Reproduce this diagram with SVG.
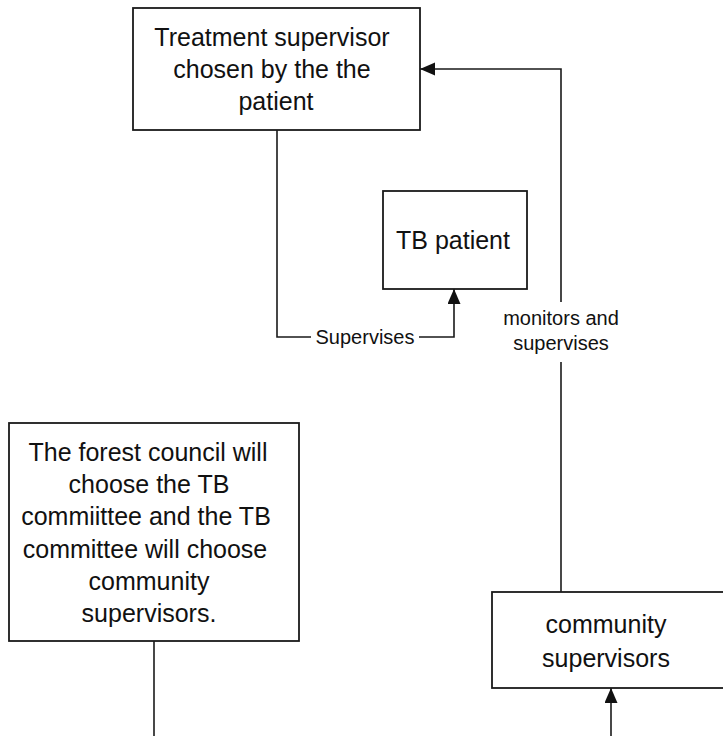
<svg xmlns="http://www.w3.org/2000/svg" width="723" height="736" viewBox="0 0 723 736">
  <defs>
    <style>
      .box { fill: #ffffff; stroke: #1a1a1a; stroke-width: 1.8; }
      .t { font-family: "Liberation Sans", Arial, sans-serif; font-size: 25px; fill: #111; text-anchor: middle; }
      .lbl { font-family: "Liberation Sans", Arial, sans-serif; font-size: 20px; fill: #111; text-anchor: middle; }
      .wire { fill: none; stroke: #1a1a1a; stroke-width: 1.6; }
    </style>
    <marker id="arr" markerUnits="userSpaceOnUse" markerWidth="16" markerHeight="14" refX="15" refY="6.5" orient="auto">
      <path d="M0,0 L15,6.5 L0,13 z" fill="#111"/>
    </marker>
  </defs>
  <rect x="0" y="0" width="723" height="736" fill="#ffffff"/>

  <g id="connectors">
    <path class="wire" d="M277,130 V337 H311"/>
    <path class="wire" d="M419,337 H454 V289" marker-end="url(#arr)"/>
    <text class="lbl" x="365" y="344">Supervises</text>
    <path class="wire" d="M561,592 V362"/>
    <path class="wire" d="M561,302 V69 H420" marker-end="url(#arr)"/>
    <text class="lbl" x="561" y="325">monitors and</text>
    <text class="lbl" x="561" y="350">supervises</text>
    <path class="wire" d="M154,641 V736"/>
    <path class="wire" d="M611,736 V688" marker-end="url(#arr)"/>
  </g>

  <g id="treatment-supervisor">
    <rect class="box" x="133" y="8" width="287" height="122"/>
    <text class="t" x="272" y="46">Treatment supervisor</text>
    <text class="t" x="272" y="78">chosen by the the</text>
    <text class="t" x="276" y="110">patient</text>
  </g>

  <g id="tb-patient">
    <rect class="box" x="383" y="191" width="144" height="98"/>
    <text class="t" x="453" y="249">TB patient</text>
  </g>

  <g id="forest-council">
    <rect class="box" x="9" y="423" width="290" height="218"/>
    <text class="t" x="148" y="461">The forest council will</text>
    <text class="t" x="149" y="493">choose the TB</text>
    <text class="t" x="146" y="525">commiittee and the TB</text>
    <text class="t" x="145" y="558">committee will choose</text>
    <text class="t" x="149" y="590">community</text>
    <text class="t" x="149" y="622">supervisors.</text>
  </g>

  <g id="community-supervisors">
    <rect class="box" x="492" y="592" width="250" height="96"/>
    <text class="t" x="606" y="633">community</text>
    <text class="t" x="606" y="667">supervisors</text>
  </g>
</svg>
